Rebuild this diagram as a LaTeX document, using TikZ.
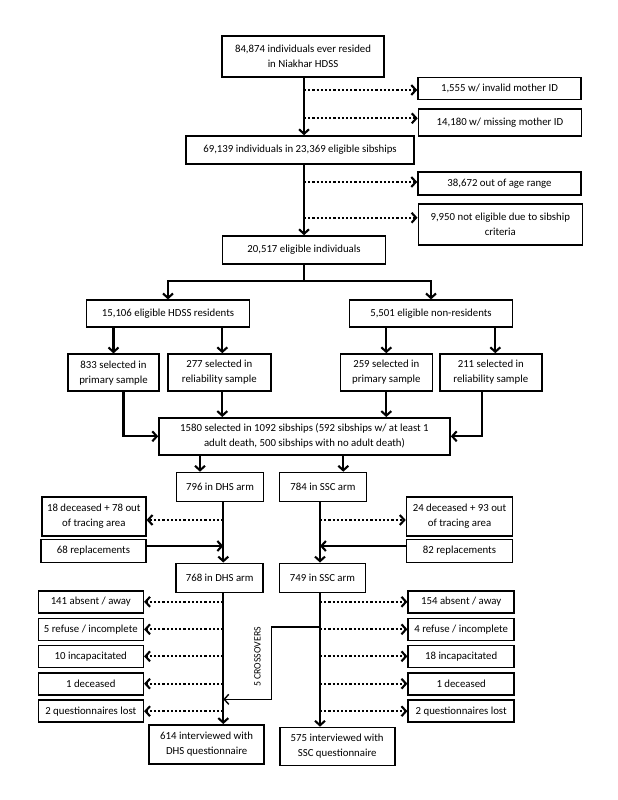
\documentclass[tikz,border=0pt]{standalone}
\usepackage{fontspec}
\setmainfont{Carlito}
\usetikzlibrary{arrows.meta,calc}
\begin{document}
\begin{tikzpicture}[x=1pt,y=-1pt,
 box/.style={draw, line width=1.6pt, align=center, inner sep=1pt, font=\fontsize{10.8}{15}\selectfont},
 arr/.style={line width=2.1pt, -{Straight Barb[length=4.5pt,width=10pt]}},
 dotarr/.style={line width=2.1pt, dash pattern=on 2.2pt off 2pt, -{Straight Barb[length=4.5pt,width=10pt]}},
 ln/.style={line width=2.1pt}]
\fill[white] (0,0) rectangle (618,800);
\useasboundingbox (0,0) rectangle (618,800);
% boxes
\node[box, minimum width=162pt, minimum height=41pt] (top) at (303,56.5) {84,874 individuals ever resided\\in Niakhar HDSS};
\node[box, minimum width=163pt, minimum height=22pt] (inv) at (499.5,88.6) {1,555 w/ invalid mother ID};
\node[box, minimum width=163pt, minimum height=27pt] (mis) at (500,122.3) {14,180 w/ missing mother ID};
\node[box, minimum width=228pt, minimum height=28pt] (sib) at (300,150) {69,139 individuals in 23,369 eligible sibships};
\node[box, minimum width=163pt, minimum height=23pt] (age) at (499.5,183.7) {38,672 out of age range};
\node[box, minimum width=164pt, minimum height=41pt] (crit) at (500.3,224.7) {9,950 not eligible due to sibship\\criteria};
\node[box, minimum width=163pt, minimum height=28pt] (elig) at (304,250) {20,517 eligible individuals};
\node[box, minimum width=163pt, minimum height=27pt] (res) at (168,313.7) {15,106 eligible HDSS residents};
\node[box, minimum width=163pt, minimum height=27pt] (non) at (431,313.7) {5,501 eligible non-residents};
\node[box, minimum width=91pt, minimum height=37pt] (p1) at (113.5,372.7) {833 selected in\\primary sample};
\node[box, minimum width=103pt, minimum height=37pt] (r1) at (219.3,372.5) {277 selected in\\reliability sample};
\node[box, minimum width=92pt, minimum height=37pt] (p2) at (386.3,372.5) {259 selected in\\primary sample};
\node[box, minimum width=102pt, minimum height=37pt] (r2) at (490.8,372.5) {211 selected in\\reliability sample};
\node[box, minimum width=291pt, minimum height=37pt] (sel) at (304.5,436.3) {1580 selected in 1092 sibships (592 sibships w/ at least 1\\adult death, 500 sibships with no adult death)};
\node[box, minimum width=87pt, minimum height=29pt] (dhs1) at (220,487) {796 in DHS arm};
\node[box, minimum width=87pt, minimum height=29pt] (ssc1) at (323,487) {784 in SSC arm};
\node[box, minimum width=104pt, minimum height=39pt] (dec1) at (93.8,516.3) {18 deceased + 78 out\\of tracing area};
\node[box, minimum width=105pt, minimum height=23pt] (rep1) at (93.5,551) {68 replacements};
\node[box, minimum width=106pt, minimum height=39pt] (dec2) at (459.5,516.3) {24 deceased + 93 out\\of tracing area};
\node[box, minimum width=106pt, minimum height=23pt] (rep2) at (459.5,551) {82 replacements};
\node[box, minimum width=87pt, minimum height=29pt] (dhs2) at (219.7,577.8) {768 in DHS arm};
\node[box, minimum width=86pt, minimum height=29pt] (ssc2) at (322.5,577.8) {749 in SSC arm};
\node[box, minimum width=105pt, minimum height=22pt] (L1) at (90.8,601.8) {141 absent / away};
\node[box, minimum width=105pt, minimum height=22pt] (L2) at (90.8,629.3) {5 refuse / incomplete};
\node[box, minimum width=105pt, minimum height=22pt] (L3) at (90.8,656.3) {10 incapacitated};
\node[box, minimum width=105pt, minimum height=22pt] (L4) at (90.8,683.7) {1 deceased};
\node[box, minimum width=105pt, minimum height=22pt] (L5) at (90.8,711.2) {2 questionnaires lost};
\node[box, minimum width=106pt, minimum height=22pt] (R1) at (461.2,601.8) {154 absent / away};
\node[box, minimum width=106pt, minimum height=22pt] (R2) at (461.2,629.3) {4 refuse / incomplete};
\node[box, minimum width=106pt, minimum height=22pt] (R3) at (461.2,656.3) {18 incapacitated};
\node[box, minimum width=106pt, minimum height=22pt] (R4) at (461.2,683.7) {1 deceased};
\node[box, minimum width=106pt, minimum height=22pt] (R5) at (461.2,711.2) {2 questionnaires lost};
\node[box, minimum width=115pt, minimum height=39pt] (int1) at (206.7,744.3) {614 interviewed with\\DHS questionnaire};
\node[box, minimum width=115pt, minimum height=38pt] (int2) at (337.2,746.5) {575 interviewed with\\SSC questionnaire};
\node[rotate=90, font=\fontsize{9.8}{11}\selectfont] (cross) at (257.5,657) {5 CROSSOVERS};
% coordinates
\coordinate (mx) at (304,0);
\coordinate (d1) at (304,90);
\coordinate (d2) at (304,118.3);
\coordinate (d3) at (304,182);
\coordinate (d4) at (304,217.7);
\coordinate (sp) at (304,280.7);
\coordinate (ax1) at (200,0);
\coordinate (ax2) at (343.3,0);
\coordinate (lx) at (223.3,0);
\coordinate (rx) at (320,0);
\coordinate (e1) at (223.3,520);
\coordinate (e2) at (223.3,546);
\coordinate (f1) at (320,520);
\coordinate (f2) at (320,546);
\coordinate (c1) at (320,627);
\coordinate (c2) at (271.7,699.3);
% connectors top
\draw[arr] (top.south -| mx) -- (sib.north -| mx);
\draw[dotarr] (d1) -- (inv.west |- d1);
\draw[dotarr] (d2) -- (mis.west |- d2);
\draw[arr] (sib.south -| mx) -- (elig.north -| mx);
\draw[dotarr] (d3) -- (age.west |- d3);
\draw[dotarr] (d4) -- (crit.west |- d4);
\draw[ln] (elig.south -| mx) -- (sp);
\draw[arr] (sp) -| (res.north);
\draw[arr] (sp) -| (non.north);
\draw[arr] (res.south -| p1.north) -- (p1.north);
\draw[arr] ([xshift=3pt]r1.north |- res.south) -- ([xshift=3pt]r1.north);
\draw[arr] (non.south -| p2.north) -- (p2.north);
\draw[arr] ([xshift=4.5pt]r2.north |- non.south) -- ([xshift=4.5pt]r2.north);
\draw[arr] ([xshift=10pt]p1.south) |- (sel.west);
\draw[arr] ([xshift=3pt]r1.south) -- ([xshift=3pt]r1.south |- sel.north);
\draw[arr] (p2.south) -- (p2.south |- sel.north);
\draw[arr] ([xshift=-9pt]r2.south) |- (sel.east);
\draw[arr] (sel.south -| ax1) -- (dhs1.north -| ax1);
\draw[arr] (sel.south -| ax2) -- (ssc1.north -| ax2);
% arms
\draw[arr] (dhs1.south -| lx) -- (dhs2.north -| lx);
\draw[dotarr] (e1) -- (dec1.east |- e1);
\draw[arr] (rep1.east |- e2) -- (e2);
\draw[arr] (ssc1.south -| rx) -- (ssc2.north -| rx);
\draw[dotarr] (f1) -- (dec2.west |- f1);
\draw[arr] (rep2.west |- f2) -- (f2);
\draw[arr] (dhs2.south -| lx) -- (int1.north -| lx);
\draw[arr] (ssc2.south -| rx) -- (int2.north -| rx);
\foreach \n in {L1,L2,L3,L4,L5}{\draw[dotarr] (lx |- \n.east) -- (\n.east);}
\foreach \n in {R1,R2,R3,R4,R5}{\draw[dotarr] (rx |- \n.west) -- (\n.west);}
\draw[line width=1.4pt, -{Straight Barb[length=4.5pt,width=10pt]}] (c1) -| (c2) -- (lx |- c2);
\end{tikzpicture}
\end{document}
